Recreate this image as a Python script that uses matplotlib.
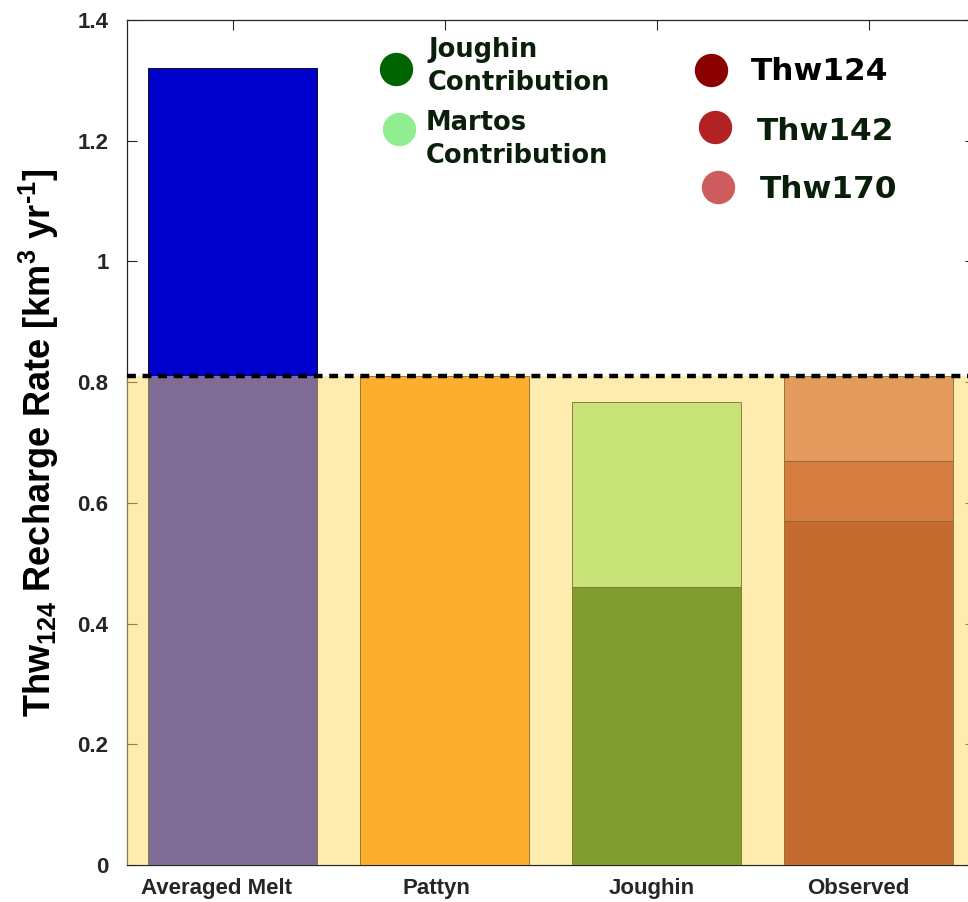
import matplotlib
matplotlib.use("Agg")
import matplotlib.pyplot as plt
from matplotlib.transforms import ScaledTranslation
import numpy as np

# ---- data ----
categories = ["Averaged Melt", "Pattyn", "Joughin", "Observed"]
averaged_melt = 1.32
pattyn = 0.81
joughin_parts = [0.46, 0.307]          # Joughin, Martos contributions
observed_parts = [0.57, 0.10, 0.14]    # Thw124, Thw142, Thw170
thw124_rate = 0.81                     # Thw124 recharge rate (dashed line)
yticks = [0, 0.2, 0.4, 0.6, 0.8, 1.0, 1.2, 1.4]
ytick_labels = ["0", "0.2", "0.4", "0.6", "0.8", "1", "1.2", "1.4"]
green_labels = ["Joughin\nContribution", "Martos\nContribution"]
red_labels = ["Thw124", "Thw142", "Thw170"]

# ---- style ----
melt_color = "#0000CC"
pattyn_color = "#FF8400"
green_colors = ["#006400", "#90EE90"]
red_colors = ["#8B0000", "#B22222", "#CD5C5C"]
shade_color = "#FED85E"
axis_gray = "#262626"
legend_text = "#0A1F0A"

plt.rcParams["mathtext.fontset"] = "custom"
plt.rcParams["mathtext.rm"] = "Liberation Sans:bold"
plt.rcParams["mathtext.it"] = "Liberation Sans:bold"
plt.rcParams["mathtext.bf"] = "Liberation Sans:bold"
plt.rcParams["mathtext.default"] = "rm"

fig = plt.figure(figsize=(9.68, 9.02), dpi=100)
ax = fig.add_axes([0.1308, 0.041, 0.876, 0.9368])

x = np.arange(1, len(categories) + 1)
width = 0.8
edge = dict(edgecolor="black", linewidth=0.6)

ax.bar(x[0], averaged_melt, width, color=melt_color, zorder=2, **edge)
ax.bar(x[1], pattyn, width, color=pattyn_color, zorder=2, **edge)

bottom = 0.0
for val, col in zip(joughin_parts, green_colors):
    ax.bar(x[2], val, width, bottom=bottom, color=col, zorder=2, **edge)
    bottom += val

bottom = 0.0
for val, col in zip(observed_parts, red_colors):
    ax.bar(x[3], val, width, bottom=bottom, color=col, zorder=2, **edge)
    bottom += val

ax.set_xlim(0.5, 4.5)
ax.set_ylim(0, 1.4)

# translucent band up to the Thw124 recharge rate
ax.axhspan(0, thw124_rate, color=shade_color, alpha=0.5, linewidth=0, zorder=3)
ax.axhline(thw124_rate, color="black", linestyle=(0, (2.0, 1.5)), linewidth=3.2, zorder=4)

# ---- axes styling ----
tick_font = dict(family="Liberation Sans", weight="bold", size=16)
ax.set_xticks(x)
ax.set_xticklabels(categories, fontdict=tick_font, color=axis_gray)
ax.set_yticks(yticks)
ax.set_yticklabels(ytick_labels, fontdict=tick_font, color=axis_gray)
ax.tick_params(axis="both", direction="in", length=7, width=0.8, color=axis_gray,
               top=True, right=True)
ax.tick_params(axis="x", pad=9)
ax.tick_params(axis="y", pad=13)
for sp in ax.spines.values():
    sp.set_color(axis_gray)
    sp.set_linewidth(0.9)

shifts = [-16, -8, -5, -10]
for lab, dx in zip(ax.get_xticklabels(), shifts):
    lab.set_transform(lab.get_transform() + ScaledTranslation(dx / 100, 0, fig.dpi_scale_trans))

ax.set_ylabel(r"Thw$_{124}$ Recharge Rate [km$^{3}$ yr$^{\text{-1}}$]",
              family="Liberation Sans", weight="bold", size=26, color="black")
ax.yaxis.set_label_coords(-0.077, 0.5)

# ---- legend built from markers and text ----
green_marker_pos = [(0.3179, 0.942), (0.3213, 0.871)]
green_text_pos = [(0.3555, 0.9562), (0.3531, 0.8698)]
line_step = 0.039
for lab, col, (mx, my), (tx, ty) in zip(green_labels, green_colors,
                                         green_marker_pos, green_text_pos):
    ax.plot(mx, my, "o", ms=23, color=col, transform=ax.transAxes,
            clip_on=False, zorder=5)
    for i, line in enumerate(lab.split("\n")):
        ax.text(tx, ty - i * line_step, line, transform=ax.transAxes,
                family="DejaVu Sans", weight="bold", size=18.5,
                color=legend_text, ha="left", va="baseline", zorder=5)

red_marker_pos = [(0.6892, 0.9408), (0.6939, 0.8734), (0.6975, 0.8024)]
red_text_pos = [(0.7364, 0.929), (0.7435, 0.858), (0.747, 0.7893)]
red_text_colors = ["black", legend_text, legend_text]
for lab, col, tcol, (mx, my), (tx, ty) in zip(red_labels, red_colors, red_text_colors,
                                               red_marker_pos, red_text_pos):
    ax.plot(mx, my, "o", ms=23, color=col, transform=ax.transAxes,
            clip_on=False, zorder=5)
    ax.text(tx, ty, lab, transform=ax.transAxes, family="DejaVu Sans",
            weight="bold", size=22.5, color=tcol, ha="left", va="baseline", zorder=5)

fig.savefig("out.png", dpi=100)
